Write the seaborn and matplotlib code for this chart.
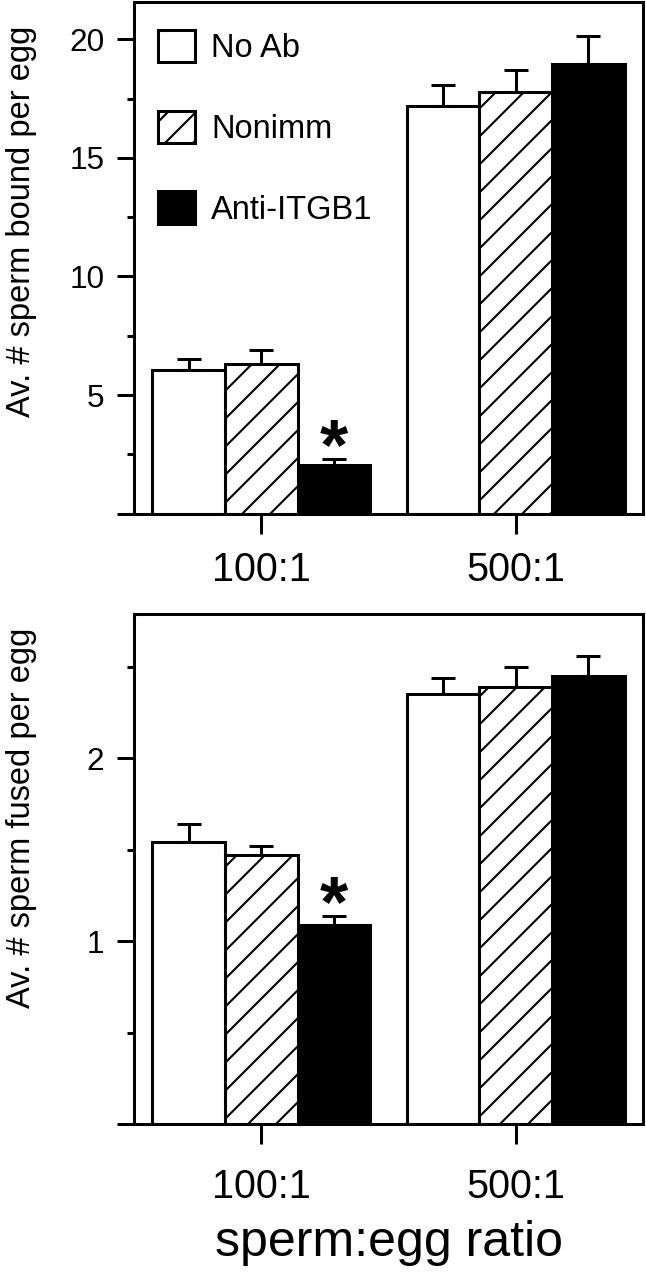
import matplotlib
matplotlib.use('Agg')
import matplotlib.pyplot as plt
import seaborn as sns
import pandas as pd

# dados
grupos = ['100:1', '500:1']
tratamentos = ['No Ab', 'Nonimm', 'Anti-ITGB1']
cores = ['white', 'white', 'black']

ligados_media = {'No Ab': [6.05, 17.2], 'Nonimm': [6.3, 17.8], 'Anti-ITGB1': [2.05, 18.95]}
ligados_erro = {'No Ab': [0.45, 0.87], 'Nonimm': [0.62, 0.9], 'Anti-ITGB1': [0.27, 1.18]}
fundidos_media = {'No Ab': [1.54, 2.35], 'Nonimm': [1.47, 2.39], 'Anti-ITGB1': [1.09, 2.45]}
fundidos_erro = {'No Ab': [0.10, 0.09], 'Nonimm': [0.05, 0.11], 'Anti-ITGB1': [0.05, 0.11]}

# dpi escolhido para o hachurado ficar espaçado como no original
DPI = 168
sns.set_style('ticks')
plt.rcParams['font.family'] = ['Liberation Sans', 'DejaVu Sans']
plt.rcParams['text.color'] = 'black'
plt.rcParams['axes.labelcolor'] = 'black'
plt.rcParams['xtick.color'] = 'black'
plt.rcParams['ytick.color'] = 'black'
plt.rcParams['hatch.linewidth'] = 0.9
plt.rcParams['axes.linewidth'] = 1.3

fig = plt.figure(figsize=(646 / DPI, 1280 / DPI), dpi=DPI)
ax1 = fig.add_axes([0.2074, 0.5988, 0.788, 0.4000])
ax2 = fig.add_axes([0.2074, 0.1219, 0.788, 0.3984])


def painel(ax, medias, erros, ylim, yticks, ylabels, yminor, ylabel, label_y, estrela, xpad):
    df = pd.DataFrame([
        {'grupo': g, 'trat': t, 'valor': medias[t][i]}
        for t in tratamentos for i, g in enumerate(grupos)
    ])
    sns.barplot(data=df, x='grupo', y='valor', hue='trat', hue_order=tratamentos,
                order=grupos, palette=cores, edgecolor='black', linewidth=1.3,
                width=0.855, gap=0, errorbar=None, legend=False, ax=ax, zorder=2)
    for p in ax.containers[1]:
        p.set_hatch('//')

    # barras de erro só para cima
    for cont, t in zip(ax.containers, tratamentos):
        xs = [p.get_x() + p.get_width() / 2 for p in cont]
        ax.errorbar(xs, medias[t], yerr=[[0, 0], erros[t]], fmt='none', ecolor='black',
                    elinewidth=1.3, capsize=5.3, capthick=1.3, zorder=1)

    # asterisco sobre Anti-ITGB1 100:1
    p = ax.containers[2][0]
    x = p.get_x() + p.get_width() / 2
    ax.annotate('*', (x, medias['Anti-ITGB1'][0] + erros['Anti-ITGB1'][0]),
                xytext=(0, estrela), textcoords='offset points', ha='center',
                va='baseline', fontsize=31, fontweight='bold')

    ax.set_xlim(-0.5, 1.5)
    ax.set_ylim(*ylim)
    ax.set_yticks(yticks)
    ax.set_yticklabels(ylabels)
    ax.set_yticks(yminor, minor=True)
    ax.tick_params(axis='y', which='major', length=7.3, width=1.3, pad=5.4, labelsize=13.5, direction='out')
    ax.tick_params(axis='y', which='minor', length=3.2, width=1.3, direction='out')
    ax.tick_params(axis='x', which='major', length=8.4, width=1.3, pad=xpad, labelsize=17, direction='out')
    ax.tick_params(axis='x', which='minor', length=0)
    ax.set_ylabel(ylabel, fontsize=14)
    ax.yaxis.set_label_coords(-0.19, label_y)
    for s in ax.spines.values():
        s.set_visible(True)
        s.set_linewidth(1.3)
        s.set_color('black')
    ax.set_xlabel('')


painel(ax1, ligados_media, ligados_erro, (0, 21.6), [0, 5, 10, 15, 20],
       ['', '5', '10', '15', '20'], [2.5, 7.5, 12.5, 17.5],
       'Av. # sperm bound per egg', 0.571, -4.5, 7.5)
painel(ax2, fundidos_media, fundidos_erro, (0, 2.79), [0, 1, 2],
       ['', '1', '2'], [0.5, 1.5, 2.5],
       'Av. # sperm fused per egg', 0.60, -4.5, 10.5)

ax2.set_xlabel('sperm:egg ratio', fontsize=21.5, labelpad=6)

ax1.legend(handles=list(ax1.containers), labels=tratamentos, loc='upper left',
           bbox_to_anchor=(0.0466, 0.944), frameon=False, fontsize=14,
           handlelength=1.14, handleheight=1.14, handletextpad=0.5,
           labelspacing=1.42, borderpad=0, borderaxespad=0)

fig.savefig('out.png', dpi=DPI)
